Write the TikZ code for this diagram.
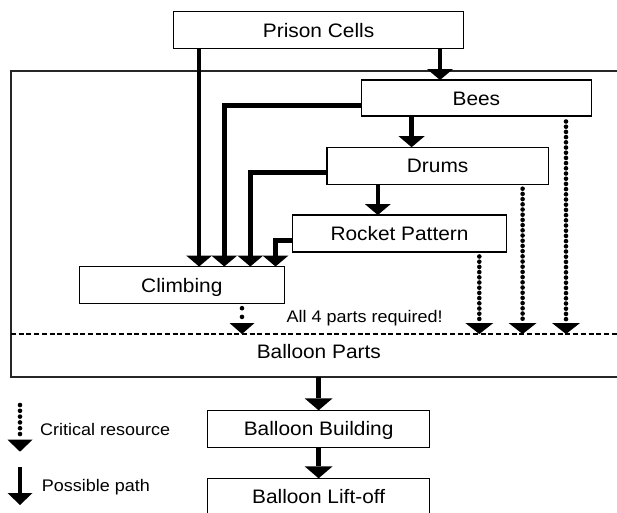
\documentclass[tikz,border=0pt]{standalone}
\usepackage{fontspec}
\setmainfont{Liberation Sans}[FakeStretch=1.07]
\usetikzlibrary{arrows.meta,calc}
\newcommand\BoxFont{\fontsize{19.5}{23}\selectfont}
\newcommand\LblFont{\fontsize{16.8}{20}\selectfont}
\begin{document}
\begin{tikzpicture}[x=1pt,y=-1pt,
  box/.style={draw, line width=1.1pt, fill=white, inner sep=0pt, outer sep=0pt,
    minimum height=37pt, font=\BoxFont, text height=14pt, text depth=0pt},
  biglbl/.style={inner sep=0pt, font=\BoxFont, text height=14pt, text depth=0pt},
  lbl/.style={inner sep=0pt, font=\LblFont, text height=12pt, text depth=0pt},
  pathar/.style={line width=4.6pt, -{Triangle[width=26pt,length=11pt,line width=0pt]}},
  pathbig/.style={line width=5pt, -{Triangle[width=28pt,length=12pt,line width=0pt]}},
  crit/.style={line width=4.6pt, line cap=round, dash pattern=on 0pt off 5.2pt,
    -{Triangle[width=28pt,length=11pt,line width=0pt]}},
  critsparse/.style={crit, dash pattern=on 0pt off 8.7pt,
    -{Triangle[width=25pt,length=11pt,line width=0pt]}},
]
\useasboundingbox (0,0) rectangle (617,512);
\clip (0,0) rectangle (617,512);
\fill[white] (0,0) rectangle (617,512);

% large "Balloon Parts" frame (runs past the right edge)
\node[draw=black!85, line width=1.1pt, inner sep=0pt, outer sep=0pt,
  minimum width=619pt, minimum height=306pt] (parts) at (320.5,224) {};
\coordinate (dl) at (11,334);
\coordinate (dr) at (617,334);
\draw[line width=1.7pt, dash pattern=on 5pt off 2.7pt] (dl) -- (dr);

% boxes
\node[box, minimum width=290pt] (prison) at (318.6,30) {Prison Cells};
\node[box, minimum width=230.2pt, minimum height=36pt] (bees) at (476.4,98) {Bees};
\node[box, minimum width=221.2pt] (drums) at (437.6,165.7) {Drums};
\node[box, minimum width=214.1pt] (rocket) at (399.5,233.5) {Rocket Pattern};
\node[box, minimum width=204.6pt] (climbing) at (181.8,285) {Climbing};
\node[box, minimum width=222.4pt] (building) at (318.6,428.8) {Balloon Building};
\node[box, minimum width=222.4pt] (liftoff) at (318.6,496.8) {Balloon Lift-off};

\node[biglbl] (partslbl) at (318.8,351) {Balloon Parts};
\node[lbl] (req) at (364.6,316.7) {All 4 parts required!};

% x positions of connectors
\coordinate (xa) at (199.1,0);
\coordinate (xb) at (224.3,0);
\coordinate (xc) at (250.3,0);
\coordinate (xd) at (275.5,0);
\coordinate (xbees) at (440,0);
\coordinate (xdrums) at (411.6,0);
\coordinate (xrocket) at (377.8,0);
\coordinate (xe) at (566,0);
\coordinate (xf) at (522.6,0);
\coordinate (xg) at (479.3,0);
\coordinate (xh) at (242,0);

% possible paths
\draw[pathar] (prison.south -| xa) -- (climbing.north -| xa);
\draw[pathar] (prison.south -| xbees) -- (bees.north -| xbees);
\draw[pathar] ($(bees.west)+(0,7.3)$) -| (climbing.north -| xb);
\draw[pathar] (bees.south -| xdrums) -- (drums.north -| xdrums);
\draw[pathar] ($(drums.west)+(0,7)$) -| (climbing.north -| xc);
\draw[pathar] (drums.south -| xrocket) -- (rocket.north -| xrocket);
\draw[pathar] ($(rocket.west)+(0,7.2)$) -| (climbing.north -| xd);

% critical resources
\draw[crit] ($(bees.south -| xe)+(0,5.5)$) -- (dl -| xe);
\draw[crit] ($(drums.south -| xf)+(0,4.5)$) -- (dl -| xf);
\draw[crit] ($(rocket.south -| xg)+(0,4.5)$) -- (dl -| xg);
\draw[critsparse] ($(climbing.south -| xh)+(0,4.7)$) -- (dl -| xh);

% lower chain
\draw[pathbig] (parts.south -| building.north) -- (building.north);
\draw[pathbig] (building.south) -- (liftoff.north);

% legend
\coordinate (lc1) at (20,405);
\coordinate (lc2) at (20,451.7);
\coordinate (lp1) at (20,467.3);
\coordinate (lp2) at (20,505);
\draw[line width=4.6pt, line cap=round, dash pattern=on 0pt off 5.8pt,
  -{Triangle[width=25pt,length=12pt,line width=0pt]}] (lc1) -- (lc2);
\draw[line width=4.6pt, -{Triangle[width=25pt,length=12pt,line width=0pt]}] (lp1) -- (lp2);
\node[lbl, anchor=west] (crittxt) at (40,429) {Critical resource};
\node[lbl, anchor=west] (pathtxt) at (41.7,485) {Possible path};
\end{tikzpicture}
\end{document}
